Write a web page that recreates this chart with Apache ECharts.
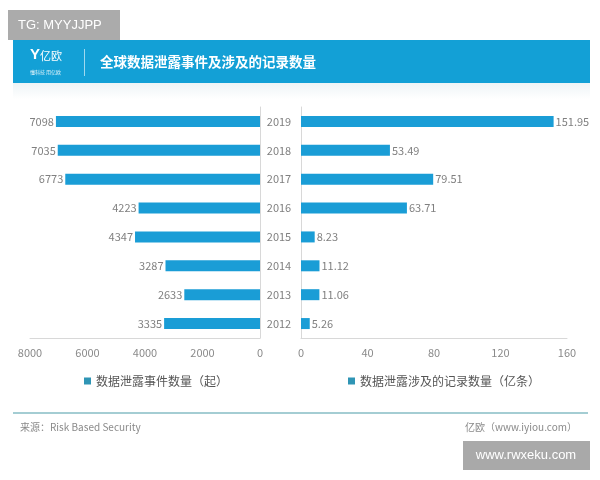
<!DOCTYPE html>
<html>
<head>
<meta charset="utf-8">
<script src="https://cdn.jsdelivr.net/npm/echarts@6/dist/echarts.min.js"></script>
<style>html,body{margin:0;padding:0;background:#fff;}#c{width:600px;height:480px;}</style>
</head>
<body>
<div id="c"></div>
<script>
var years = ['2012','2013','2014','2015','2016','2017','2018','2019'];
var events = [3335, 2633, 3287, 4347, 4223, 6773, 7035, 7098];
var records = [5.26, 11.06, 11.12, 8.23, 63.71, 79.51, 53.49, 151.95];
var leftTicks = [0, 2000, 4000, 6000, 8000];
var rightTicks = [0, 40, 80, 120, 160];
var titleText = '全球数据泄露事件及涉及的记录数量';
var nameEvents = '数据泄露事件数量（起）';
var nameRecords = '数据泄露涉及的记录数量（亿条）';
var sourceText = '来源：Risk Based Security';
var siteText = '亿欧（www.iyiou.com）';

var FONT = '"Noto Sans CJK SC", "Noto Sans", sans-serif';
var BAR = '#1a9dd6';
var chart = echarts.init(document.getElementById('c'));
chart.setOption({
  backgroundColor: '#fff',
  textStyle: { fontFamily: FONT },
  animation: false,
  grid: [
    { left: 30, width: 230, top: 107, height: 231 },
    { left: 301, width: 266, top: 107, height: 231 }
  ],
  xAxis: [
    { gridIndex: 0, type: 'value', inverse: true, min: leftTicks[0], max: leftTicks[leftTicks.length-1], interval: 2000,
      axisLine: { show: true, lineStyle: { color: '#d8d8d8' } }, axisTick: { show: false }, splitLine: { show: false },
      axisLabel: { color: '#8a8a8a', fontSize: 11, margin: 9, fontFamily: FONT, formatter: function (v) { return String(v); } } },
    { gridIndex: 1, type: 'value', min: rightTicks[0], max: rightTicks[rightTicks.length-1], interval: 40,
      axisLine: { show: true, lineStyle: { color: '#d8d8d8' } }, axisTick: { show: false }, splitLine: { show: false },
      axisLabel: { color: '#8a8a8a', fontSize: 11, margin: 9, fontFamily: FONT, formatter: function (v) { return String(v); } } }
  ],
  yAxis: [
    { gridIndex: 0, type: 'category', data: years, position: 'right',
      axisLine: { show: true, lineStyle: { color: '#d8d8d8' } }, axisTick: { show: false },
      axisLabel: { show: false } },
    { gridIndex: 1, type: 'category', data: years, position: 'left',
      axisLine: { show: true, lineStyle: { color: '#d8d8d8' } }, axisTick: { show: false },
      axisLabel: { show: true, align: 'center', margin: 22, color: '#808080', fontSize: 11, fontFamily: FONT } }
  ],
  legend: [
    { left: 79, top: 370, icon: 'rect', itemWidth: 7, itemHeight: 7, itemGap: 4,
      textStyle: { color: '#555', fontSize: 12, fontFamily: FONT },
      data: [{ name: nameEvents, itemStyle: { color: '#2f95b5' } }] },
    { left: 343, top: 370, icon: 'rect', itemWidth: 7, itemHeight: 7,
      textStyle: { color: '#555', fontSize: 12, fontFamily: FONT },
      data: [{ name: nameRecords, itemStyle: { color: '#2f95b5' } }] }
  ],
  series: [
    { name: nameEvents, type: 'bar', xAxisIndex: 0, yAxisIndex: 0, data: events, barWidth: 11,
      itemStyle: { color: BAR },
      label: { show: true, position: 'left', distance: 2, color: '#808080', fontSize: 11, fontFamily: FONT } },
    { name: nameRecords, type: 'bar', xAxisIndex: 1, yAxisIndex: 1, data: records, barWidth: 11,
      itemStyle: { color: BAR },
      label: { show: true, position: 'right', distance: 2, color: '#808080', fontSize: 11, fontFamily: FONT } }
  ],
  graphic: [
    { type: 'rect', shape: { x: 8, y: 10, width: 112, height: 30 }, style: { fill: '#ababab' }, z: 10 },
    { type: 'text', x: 18, y: 25, style: { text: 'TG: MYYJJPP', fill: '#fff', fontSize: 13, fontFamily: '"Liberation Sans", Arial, sans-serif', textVerticalAlign: 'middle' }, z: 11 },
    { type: 'rect', shape: { x: 13, y: 83, width: 577, height: 16 },
      style: { fill: new echarts.graphic.LinearGradient(0, 0, 0, 1, [{ offset: 0, color: '#eef4f6' }, { offset: 1, color: '#ffffff' }]) }, z: 1 },
    { type: 'rect', shape: { x: 13, y: 40, width: 577, height: 43 }, style: { fill: '#13a0d6' }, z: 5 },
    { type: 'text', x: 30, y: 55, style: { text: 'Y', fill: '#fff', fontSize: 15, fontWeight: 'bold', fontFamily: '"Liberation Sans", sans-serif', textVerticalAlign: 'middle' }, z: 6 },
    { type: 'text', x: 40, y: 56, style: { text: '亿欧', fill: '#fff', fontSize: 11, fontFamily: FONT, textVerticalAlign: 'middle' }, z: 6 },
    { type: 'text', x: 30, y: 72, style: { text: '懂科技 用亿欧', fill: 'rgba(255,255,255,0.85)', fontSize: 5, fontFamily: FONT, textVerticalAlign: 'middle' }, z: 6 },
    { type: 'line', shape: { x1: 84.5, y1: 49, x2: 84.5, y2: 76 }, style: { stroke: 'rgba(255,255,255,0.6)', lineWidth: 1 }, z: 6 },
    { type: 'text', x: 100, y: 62, style: { text: titleText, fill: '#fff', fontSize: 13.5, fontWeight: 'bold', fontFamily: FONT, textVerticalAlign: 'middle' }, z: 6 },
    { type: 'line', shape: { x1: 13, y1: 413, x2: 588, y2: 413 }, style: { stroke: '#86bcc4', lineWidth: 1.5 }, z: 5 },
    { type: 'text', x: 20, y: 427, style: { text: sourceText, fill: '#8a8a8a', fontSize: 10, fontFamily: FONT, textVerticalAlign: 'middle' }, z: 5 },
    { type: 'text', x: 577, y: 427, style: { text: siteText, fill: '#8a8a8a', fontSize: 10, fontFamily: FONT, textAlign: 'right', textVerticalAlign: 'middle' }, z: 5 },
    { type: 'rect', shape: { x: 463, y: 441, width: 127, height: 29 }, style: { fill: '#a9a9a9' }, z: 10 },
    { type: 'text', x: 526, y: 455.5, style: { text: 'www.rwxeku.com', fill: '#fff', fontSize: 13, fontFamily: '"Liberation Sans", Arial, sans-serif', textAlign: 'center', textVerticalAlign: 'middle' }, z: 11 }
  ]
});
</script>
</body>
</html>
